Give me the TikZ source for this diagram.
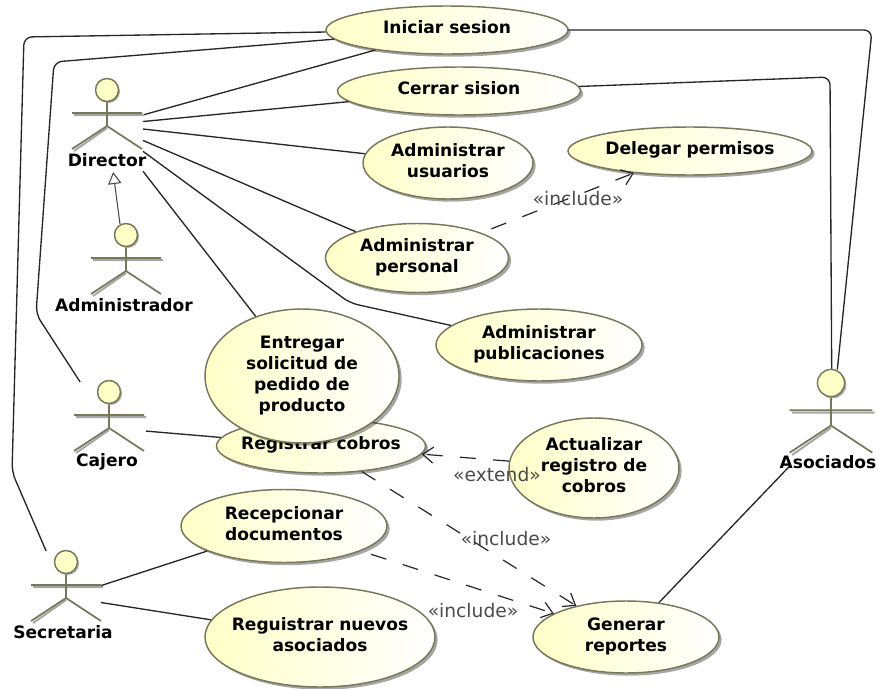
\documentclass[tikz,border=0pt]{standalone}
\usepackage{fontspec}
\setmainfont{DejaVu Sans}
\usetikzlibrary{arrows.meta,shapes.geometric,shadows}

\definecolor{umlline}{HTML}{77775A}
\definecolor{umlfill}{HTML}{FFFFC8}
\definecolor{umlwire}{HTML}{262626}
\definecolor{umlnote}{HTML}{4A4A4A}
\def\px{0.75pt}

\tikzset{
  usecase/.style={ellipse, draw=umlline, line width=1.1pt, left color=umlfill, right color=white,
    drop shadow={shadow xshift=2pt, shadow yshift=-2pt, fill=black, opacity=.35},
    inner sep=0pt, align=center, text depth=4pt, font=\bfseries\fontsize{12.8}{15.75}\selectfont},
  actorbox/.style={inner sep=0pt, outer sep=0pt},
  actorname/.style={anchor=center, inner sep=0pt, font=\bfseries\fontsize{12.8}{15}\selectfont},
  assoc/.style={draw=umlwire, line width=1pt, rounded corners=6pt},
  dep/.style={draw=umlwire, line width=.9pt, dash pattern=on 12pt off 13pt, -{Straight Barb[length=8pt,width=12pt]}},
  stereo/.style={anchor=center, inner sep=0pt, text=umlnote, font=\fontsize{14}{15}\selectfont}
}

% stick figure: head x, head y, size
\newcommand{\stickman}[3]{
  \begin{scope}[shift={(#1,#2)}, x=#3*\px, y=-#3*\px]
    \draw[black!35, line width=1.5pt] (-33,25) -- (37,25) (0,38) -- (-33,61);
    \draw[umlline, line width=1.3pt] (-35,23) -- (35,23) (0,11) -- (0,36) (-35,59) -- (0,36) -- (35,59);
    \fill[black!35] (1.5,1.5) circle (11.5);
    \draw[umlline, line width=1.1pt, fill=umlfill] (0,0) circle (11.5);
  \end{scope}
}

\begin{document}
\begin{tikzpicture}[x=\px, y=-\px]
  \useasboundingbox (0,0) rectangle (879,689);

  % actors
  \node (Director) [actorbox, minimum width=72*\px, minimum height=94*\px] at (107,125) {};
  \node (Administrador) [actorbox, minimum width=70*\px, minimum height=92*\px] at (126,270) {};
  \node (Cajero) [actorbox, minimum width=72*\px, minimum height=92*\px] at (110,428) {};
  \node (Secretaria) [actorbox, minimum width=70*\px, minimum height=92*\px] at (66,597) {};
  \node (Asociados) [actorbox, minimum width=84*\px, minimum height=105*\px] at (832,422) {};

  % use cases
  \node (Iniciar) [usecase, minimum width=242*\px, minimum height=48*\px] at (447,30) {Iniciar sesion};
  \node (Cerrar) [usecase, minimum width=243*\px, minimum height=48*\px] at (459,91) {Cerrar sision};
  \node (Usuarios) [usecase, minimum width=170*\px, minimum height=72*\px] at (448,163) {Administrar\\usuarios};
  \node (Delegar) [usecase, minimum width=244*\px, minimum height=48*\px] at (690,151) {Delegar permisos};
  \node (Personal) [usecase, minimum width=183*\px, minimum height=69*\px] at (417,258) {Administrar\\personal};
  \node (Publicaciones) [usecase, minimum width=206*\px, minimum height=72*\px] at (539,345) {Administrar\\publicaciones};
  \node (Cobros) [usecase, inner xsep=-6pt, minimum width=209*\px, minimum height=54*\px] at (321,446) {Registrar cobros};
  \node (Entregar) [usecase, minimum width=194*\px, minimum height=134*\px] at (302,376) {Entregar\\solicitud de\\pedido de\\producto};
  \node (Actualizar) [usecase, minimum width=170*\px, minimum height=100*\px] at (594,468) {Actualizar\\registro de\\cobros};
  \node (Recepcionar) [usecase, minimum width=206*\px, minimum height=73*\px] at (284,526) {Recepcionar\\documentos};
  \node (Reguistrar) [usecase, inner xsep=-6pt, minimum width=230*\px, minimum height=100*\px] at (320,637) {Reguistrar nuevos\\asociados};
  \node (Generar) [usecase, minimum width=186*\px, minimum height=72*\px] at (626,637) {Generar\\reportes};

  % bends
  \coordinate (b1) at (24,37);
  \coordinate (b2) at (12,472);
  \coordinate (b3) at (54,62);
  \coordinate (b4) at (36,314);
  \coordinate (b5) at (350,303);
  \coordinate (b6) at (830,77);
  \coordinate (b8) at (872,30);

  % connectors
  \draw[assoc] (Director) -- (Iniciar);
  \draw[assoc] (Director) -- (Cerrar);
  \draw[assoc] (Director) -- (Usuarios);
  \draw[assoc] (Director) -- (Personal);
  \draw[assoc] (Director) -- (b5) -- (Publicaciones);
  \draw[assoc] (Director) -- (Entregar);
  \draw[assoc] (Cajero) -- (b4) -- (b3) -- (Iniciar);
  \draw[assoc] (Secretaria) -- (b2) -- (b1) -- (Iniciar);
  \draw[assoc] (Cajero) -- (Cobros);
  \draw[assoc] (Secretaria) -- (Recepcionar);
  \draw[assoc] (Secretaria) -- (Reguistrar);
  \draw[assoc] (Asociados) -- (Generar);
  \draw[assoc] (Iniciar) -- (b8) -- (Asociados);
  \draw[assoc] (Cerrar) -- (b6) -- (Asociados);
  \draw[draw=umlnote, line width=.8pt, -{Triangle[open, fill=white, length=9pt, width=10pt]}] (Administrador) -- (Director);
  \draw[dep, dash phase=17pt] (Personal) -- (Delegar);
  \draw[dep] (Actualizar) -- (Cobros);
  \draw[dep] (Cobros) -- (Generar);
  \draw[dep, dash phase=17pt] (Recepcionar) -- (Generar);

  % figures and names
  \stickman{107}{90}{1}
  \stickman{126}{235}{1}
  \stickman{109}{392}{1}
  \stickman{66}{562}{1}
  \stickman{831}{383}{1.18}
  \node (DirectorName) [actorname] at (107,160) {Director};
  \node (AdministradorName) [actorname] at (124,305) {Administrador};
  \node (CajeroName) [actorname] at (107,462) {Cajero};
  \node (SecretariaName) [actorname] at (63,632) {Secretaria};
  \node (AsociadosName) [actorname] at (828,462) {Asociados};

  % stereotypes
  \node (inc1) [stereo] at (578,199) {«include»};
  \node (ext1) [stereo] at (497,475) {«extend»};
  \node (inc2) [stereo] at (506,539) {«include»};
  \node (inc3) [stereo] at (473,611) {«include»};
\end{tikzpicture}
\end{document}
